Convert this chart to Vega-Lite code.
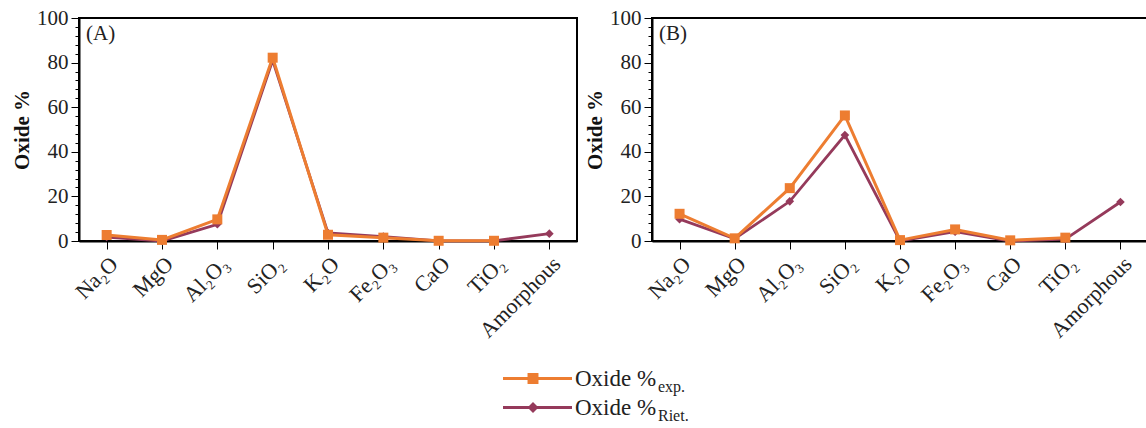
{
  "$schema": "https://vega.github.io/schema/vega-lite/v6.json",
  "padding": {"left": 10, "top": 6, "right": 0, "bottom": 0},
  "background": "white",
  "datasets": {
    "oxides": [
      {"panel": "A", "oxide": "Na₂O", "series": "exp", "value": 2.7},
      {"panel": "A", "oxide": "MgO", "series": "exp", "value": 0.5},
      {"panel": "A", "oxide": "Al₂O₃", "series": "exp", "value": 9.7},
      {"panel": "A", "oxide": "SiO₂", "series": "exp", "value": 82.2},
      {"panel": "A", "oxide": "K₂O", "series": "exp", "value": 2.8},
      {"panel": "A", "oxide": "Fe₂O₃", "series": "exp", "value": 1.5},
      {"panel": "A", "oxide": "CaO", "series": "exp", "value": 0.1},
      {"panel": "A", "oxide": "TiO₂", "series": "exp", "value": 0.1},
      {"panel": "A", "oxide": "Na₂O", "series": "Riet", "value": 1.8},
      {"panel": "A", "oxide": "MgO", "series": "Riet", "value": 0.0},
      {"panel": "A", "oxide": "Al₂O₃", "series": "Riet", "value": 7.5},
      {"panel": "A", "oxide": "SiO₂", "series": "Riet", "value": 81.0},
      {"panel": "A", "oxide": "K₂O", "series": "Riet", "value": 3.6},
      {"panel": "A", "oxide": "Fe₂O₃", "series": "Riet", "value": 2.0},
      {"panel": "A", "oxide": "CaO", "series": "Riet", "value": 0.1},
      {"panel": "A", "oxide": "TiO₂", "series": "Riet", "value": 0.1},
      {"panel": "A", "oxide": "Amorphous", "series": "Riet", "value": 3.3},
      {"panel": "B", "oxide": "Na₂O", "series": "exp", "value": 12.2},
      {"panel": "B", "oxide": "MgO", "series": "exp", "value": 1.2},
      {"panel": "B", "oxide": "Al₂O₃", "series": "exp", "value": 23.7},
      {"panel": "B", "oxide": "SiO₂", "series": "exp", "value": 56.3},
      {"panel": "B", "oxide": "K₂O", "series": "exp", "value": 0.4},
      {"panel": "B", "oxide": "Fe₂O₃", "series": "exp", "value": 5.2},
      {"panel": "B", "oxide": "CaO", "series": "exp", "value": 0.3},
      {"panel": "B", "oxide": "TiO₂", "series": "exp", "value": 1.5},
      {"panel": "B", "oxide": "Na₂O", "series": "Riet", "value": 9.8},
      {"panel": "B", "oxide": "MgO", "series": "Riet", "value": 1.0},
      {"panel": "B", "oxide": "Al₂O₃", "series": "Riet", "value": 17.8},
      {"panel": "B", "oxide": "SiO₂", "series": "Riet", "value": 47.5},
      {"panel": "B", "oxide": "K₂O", "series": "Riet", "value": 0.0},
      {"panel": "B", "oxide": "Fe₂O₃", "series": "Riet", "value": 4.2},
      {"panel": "B", "oxide": "CaO", "series": "Riet", "value": 0.0},
      {"panel": "B", "oxide": "TiO₂", "series": "Riet", "value": 0.8},
      {"panel": "B", "oxide": "Amorphous", "series": "Riet", "value": 17.5}
    ],
    "legendRows": [
      {"series": "exp", "main": "Oxide %", "sub": "exp."},
      {"series": "Riet", "main": "Oxide %", "sub": "Riet."}
    ]
  },
  "center": true,
  "spacing": 21,
  "vconcat": [
    {
      "spacing": 5,
      "hconcat": [
        {
          "width": 498,
          "height": 223,
          "title": {"text": "(A)", "anchor": "start", "orient": "top", "frame": "group", "offset": -37, "dx": 7, "font": "Liberation Serif", "fontSize": 21, "fontWeight": "normal", "color": "#222"},
          "data": {"name": "oxides"},
          "transform": [{"filter": "datum.panel === 'A'"}],
          "encoding": {
            "x": {
              "field": "oxide", "type": "nominal",
              "sort": ["Na₂O", "MgO", "Al₂O₃", "SiO₂", "K₂O", "Fe₂O₃", "CaO", "TiO₂", "Amorphous"],
              "scale": {"type": "point", "padding": 0.5, "domain": ["Na₂O", "MgO", "Al₂O₃", "SiO₂", "K₂O", "Fe₂O₃", "CaO", "TiO₂", "Amorphous"]},
              "axis": {"title": null, "labelAngle": -45, "labelFontSize": 22, "tickSize": 8, "domainWidth": 2, "labelPadding": 4, "labelDx": -5, "labelDy": -6}
            },
            "y": {
              "field": "value", "type": "quantitative",
              "scale": {"domain": [0, 100], "nice": false},
              "axis": {
                "title": "Oxide %",
                "values": [0, 4, 8, 12, 16, 20, 24, 28, 32, 36, 40, 44, 48, 52, 56, 60, 64, 68, 72, 76, 80, 84, 88, 92, 96, 100],
                "tickSize": {"condition": {"test": "datum.value % 20 === 0", "value": 8}, "value": 4},
                "labelExpr": "datum.value % 20 === 0 ? datum.label : ''",
                "labelOverlap": false, "labelFlush": false, "domainWidth": 2, "titlePadding": 4, "labelPadding": 3
              }
            }
          },
          "layer": [
            {"transform": [{"filter": "datum.series === 'Riet'"}], "mark": {"type": "line", "color": "#953A5B", "strokeWidth": 2.8}},
            {"transform": [{"filter": "datum.series === 'Riet'"}], "mark": {"type": "point", "shape": "diamond", "filled": true, "opacity": 1, "color": "#953A5B", "size": 75}},
            {"transform": [{"filter": "datum.series === 'exp'"}], "mark": {"type": "line", "color": "#ED7D31", "strokeWidth": 3}},
            {"transform": [{"filter": "datum.series === 'exp'"}], "mark": {"type": "point", "shape": "square", "filled": true, "opacity": 1, "color": "#ED7D31", "size": 100}}
          ]
        },
        {
          "width": 496,
          "height": 223,
          "title": {"text": "(B)", "anchor": "start", "orient": "top", "frame": "group", "offset": -37, "dx": 7, "font": "Liberation Serif", "fontSize": 21, "fontWeight": "normal", "color": "#222"},
          "data": {"name": "oxides"},
          "transform": [{"filter": "datum.panel === 'B'"}],
          "encoding": {
            "x": {
              "field": "oxide", "type": "nominal",
              "sort": ["Na₂O", "MgO", "Al₂O₃", "SiO₂", "K₂O", "Fe₂O₃", "CaO", "TiO₂", "Amorphous"],
              "scale": {"type": "point", "padding": 0.5, "domain": ["Na₂O", "MgO", "Al₂O₃", "SiO₂", "K₂O", "Fe₂O₃", "CaO", "TiO₂", "Amorphous"]},
              "axis": {"title": null, "labelAngle": -45, "labelFontSize": 22, "tickSize": 8, "domainWidth": 2, "labelPadding": 4, "labelDx": -5, "labelDy": -6}
            },
            "y": {
              "field": "value", "type": "quantitative",
              "scale": {"domain": [0, 100], "nice": false},
              "axis": {
                "title": "Oxide %",
                "values": [0, 4, 8, 12, 16, 20, 24, 28, 32, 36, 40, 44, 48, 52, 56, 60, 64, 68, 72, 76, 80, 84, 88, 92, 96, 100],
                "tickSize": {"condition": {"test": "datum.value % 20 === 0", "value": 8}, "value": 4},
                "labelExpr": "datum.value % 20 === 0 ? datum.label : ''",
                "labelOverlap": false, "labelFlush": false, "domainWidth": 2, "titlePadding": 4, "labelPadding": 3
              }
            }
          },
          "layer": [
            {"transform": [{"filter": "datum.series === 'Riet'"}], "mark": {"type": "line", "color": "#953A5B", "strokeWidth": 2.8}},
            {"transform": [{"filter": "datum.series === 'Riet'"}], "mark": {"type": "point", "shape": "diamond", "filled": true, "opacity": 1, "color": "#953A5B", "size": 75}},
            {"transform": [{"filter": "datum.series === 'exp'"}], "mark": {"type": "line", "color": "#ED7D31", "strokeWidth": 3}},
            {"transform": [{"filter": "datum.series === 'exp'"}], "mark": {"type": "point", "shape": "square", "filled": true, "opacity": 1, "color": "#ED7D31", "size": 100}}
          ]
        }
      ]
    },
    {
      "width": 300,
      "height": 58,
      "view": {"stroke": null},
      "data": {"name": "legendRows"},
      "encoding": {
        "y": {"field": "series", "type": "nominal", "sort": ["exp", "Riet"], "scale": {"type": "point", "padding": 0.5}, "axis": null}
      },
      "layer": [
        {
          "mark": {"type": "rule", "strokeWidth": 3},
          "encoding": {
            "x": {"datum": 39, "type": "quantitative", "scale": {"domain": [0, 300]}, "axis": null},
            "x2": {"datum": 108},
            "color": {"field": "series", "type": "nominal", "scale": {"domain": ["exp", "Riet"], "range": ["#ED7D31", "#953A5B"]}, "legend": null}
          }
        },
        {
          "mark": {"type": "point", "filled": true, "opacity": 1, "size": 120},
          "encoding": {
            "x": {"datum": 69, "type": "quantitative"},
            "color": {"field": "series", "type": "nominal", "legend": null},
            "shape": {"field": "series", "type": "nominal", "scale": {"domain": ["exp", "Riet"], "range": ["square", "diamond"]}, "legend": null}
          }
        },
        {
          "mark": {"type": "text", "align": "left", "baseline": "middle", "font": "Liberation Serif", "fontSize": 23, "color": "#222"},
          "encoding": {"x": {"datum": 111, "type": "quantitative"}, "text": {"field": "main"}}
        },
        {
          "mark": {"type": "text", "align": "left", "baseline": "middle", "dx": 83, "dy": 8, "font": "Liberation Serif", "fontSize": 16, "color": "#222"},
          "encoding": {"x": {"datum": 111, "type": "quantitative"}, "text": {"field": "sub"}}
        }
      ]
    }
  ],
  "config": {
    "view": {"stroke": "black", "strokeWidth": 2},
    "axis": {
      "labelFont": "Liberation Serif", "labelFontSize": 21, "labelColor": "#222",
      "titleFont": "Liberation Serif", "titleFontSize": 21, "titleFontWeight": "bold", "titleColor": "#111",
      "domainColor": "black", "tickColor": "black", "grid": false
    }
  }
}
